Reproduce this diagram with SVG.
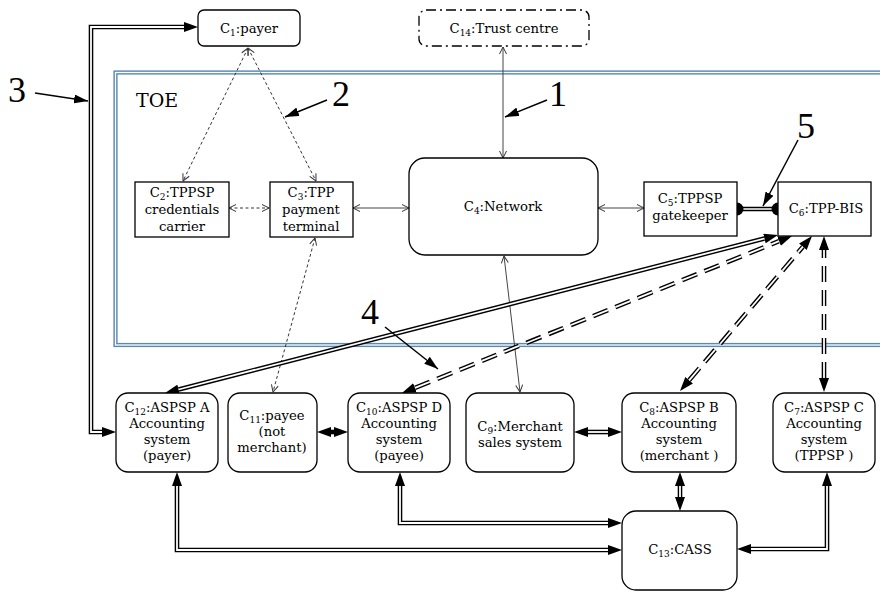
<svg xmlns="http://www.w3.org/2000/svg" width="880" height="592" viewBox="0 0 880 592">
<style>
.box{fill:#fff;stroke:#000;stroke-width:1.3}
.t{font-family:"DejaVu Serif","Liberation Serif",serif;font-size:13.2px;text-anchor:middle;fill:#000}
.sub{font-size:9px}
.lbl{font-family:"Liberation Serif",serif;font-size:36px;fill:#000}
.thin{fill:none;stroke:#444;stroke-width:1;marker-start:url(#oa);marker-end:url(#oa)}
.dot{fill:none;stroke:#333;stroke-width:1;stroke-dasharray:3 2.5;marker-start:url(#oa);marker-end:url(#oa)}
.dbo{fill:none;stroke:#000;stroke-width:4.6;marker-start:url(#ah);marker-end:url(#ah)}
.dbi{fill:none;stroke:#fff;stroke-width:1.8}
.dash{stroke-dasharray:16 8}
.la{fill:none;stroke:#000;stroke-width:1.5;marker-end:url(#la)}
</style>
<defs>
<marker id="ah" viewBox="0 0 14 10" refX="0" refY="5" markerWidth="14" markerHeight="10" markerUnits="userSpaceOnUse" orient="auto-start-reverse"><path d="M0,0 L14,5 L0,10 z" fill="#000"/></marker>
<marker id="oa" viewBox="0 0 8 8" refX="7.5" refY="4" markerWidth="8" markerHeight="8" markerUnits="userSpaceOnUse" orient="auto-start-reverse"><path d="M0.5,0.5 L7.5,4 L0.5,7.5" fill="none" stroke="#333" stroke-width="1"/></marker>
<marker id="la" viewBox="0 0 14 9" refX="14" refY="4.5" markerWidth="14" markerHeight="9" markerUnits="userSpaceOnUse" orient="auto"><path d="M0,0 L14,4.5 L0,9 z" fill="#000"/></marker>
</defs>
<rect width="880" height="592" fill="#fff"/>

<g id="toe">
<rect x="115.5" y="72.5" width="790" height="272.5" fill="none" stroke="#5a8ab4" stroke-width="4.2"/>
<rect x="115.5" y="72.5" width="790" height="272.5" fill="none" stroke="#fff" stroke-width="1.3"/>
<text x="136" y="107" class="t" style="font-size:19px;text-anchor:start">TOE</text>
</g>

<g id="connectors">
<path class="dbo" d="M102,432 L91,432 L91,27 L184,27"/>
<path class="dbi" d="M102,432 L91,432 L91,27 L184,27"/>
<path class="dot" d="M248,48 L183,181"/>
<path class="dot" d="M248,48 L316,181"/>
<path class="dot" d="M229,208 L269,208"/>
<path class="dot" d="M315,238 L273,392"/>
<path class="thin" d="M353,208 L409,208"/>
<path class="thin" d="M503,47 L503,158"/>
<path class="thin" d="M598,208 L644,208"/>
<path class="thin" d="M504,256 L520,392"/>
<path d="M737,209 L778,209" stroke="#000" stroke-width="4.6" fill="none"/>
<path d="M737,209 L778,209" stroke="#fff" stroke-width="1.6" fill="none"/>
<circle cx="737" cy="209" r="6.5" fill="#000"/>
<circle cx="778" cy="209" r="6.5" fill="#000"/>
<path class="dbo" d="M178.6,389.5 L764.4,238.5"/>
<path class="dbi" d="M178.6,389.5 L764.4,238.5"/>
<path class="dbo dash" d="M415,387.8 L779,241.2"/>
<path class="dbi dash" d="M415,387.8 L779,241.2"/>
<path class="dbo dash" d="M689.1,380.3 L802.9,246.7"/>
<path class="dbi dash" d="M689.1,380.3 L802.9,246.7"/>
<path class="dbo dash" d="M824,378 L824,250"/>
<path class="dbi dash" d="M824,378 L824,250"/>
<path class="dbo" d="M331,432 L334,432"/>
<path class="dbo" d="M588,432 L608,432"/>
<path class="dbi" d="M588,432 L608,432"/>
<path class="dbo" d="M680,486 L680,497"/>
<path class="dbi" d="M680,486 L680,497"/>
<path class="dbo" d="M177,486 L177,550 L608,550"/>
<path class="dbi" d="M177,486 L177,550 L608,550"/>
<path class="dbo" d="M400,486 L400,523 L608,523"/>
<path class="dbi" d="M400,486 L400,523 L608,523"/>
<path class="dbo" d="M827,486 L827,549 L751,549"/>
<path class="dbi" d="M827,486 L827,549 L751,549"/>
<path class="la" d="M35,93 L88,101"/>
<path class="la" d="M327,100 L285,117"/>
<path class="la" d="M547,100 L505,117"/>
<path class="la" d="M385,327 L438,369"/>
<path class="la" d="M798,140 L763,206"/>
</g>

<g id="labels">
<text class="lbl" x="8" y="102">3</text>
<text class="lbl" x="332" y="106">2</text>
<text class="lbl" x="549" y="106">1</text>
<text class="lbl" x="361" y="324">4</text>
<text class="lbl" x="797" y="138">5</text>
</g>

<g id="c1"><rect class="box" x="198" y="10" width="102" height="36" rx="6"/>
<text class="t" x="249" y="33">C<tspan class="sub" dy="3">1</tspan><tspan dy="-3">:payer</tspan></text></g>
<g id="c14"><rect x="419" y="10" width="170" height="36" rx="7" fill="#fff" stroke="#000" stroke-width="1.3" stroke-dasharray="10 4 2 4"/>
<text class="t" x="504" y="33">C<tspan class="sub" dy="3">14</tspan><tspan dy="-3">:Trust centre</tspan></text></g>
<g id="c2"><rect class="box" x="135" y="182" width="94" height="55"/>
<text class="t" x="182" y="197">C<tspan class="sub" dy="3">2</tspan><tspan dy="-3">:TPPSP</tspan></text>
<text class="t" x="182" y="214">credentials</text>
<text class="t" x="182" y="231">carrier</text></g>
<g id="c3"><rect class="box" x="270" y="182" width="83" height="55"/>
<text class="t" x="311" y="197">C<tspan class="sub" dy="3">3</tspan><tspan dy="-3">:TPP</tspan></text>
<text class="t" x="311" y="214">payment</text>
<text class="t" x="311" y="231">terminal</text></g>
<g id="c4"><rect class="box" x="409" y="158" width="189" height="97" rx="16"/>
<text class="t" x="503" y="211">C<tspan class="sub" dy="3">4</tspan><tspan dy="-3">:Network</tspan></text></g>
<g id="c5"><rect class="box" x="644" y="182" width="93" height="54"/>
<text class="t" x="690" y="203">C<tspan class="sub" dy="3">5</tspan><tspan dy="-3">:TPPSP</tspan></text>
<text class="t" x="690" y="220">gatekeeper</text></g>
<g id="c6"><rect class="box" x="778" y="182" width="93" height="54"/>
<text class="t" x="826" y="213">C<tspan class="sub" dy="3">6</tspan><tspan dy="-3">:TPP-BIS</tspan></text></g>
<g id="c12"><rect class="box" x="116" y="393" width="102" height="79" rx="12"/>
<text class="t" x="167" y="412">C<tspan class="sub" dy="3">12</tspan><tspan dy="-3">:ASPSP A</tspan></text>
<text class="t" x="167" y="428">Accounting</text>
<text class="t" x="167" y="444">system</text>
<text class="t" x="167" y="460">(payer)</text></g>
<g id="c11"><rect class="box" x="228" y="393" width="89" height="79" rx="12"/>
<text class="t" x="272" y="420">C<tspan class="sub" dy="3">11</tspan><tspan dy="-3">:payee</tspan></text>
<text class="t" x="272" y="436">(not</text>
<text class="t" x="272" y="452">merchant)</text></g>
<g id="c10"><rect class="box" x="348" y="393" width="102" height="79" rx="12"/>
<text class="t" x="399" y="412">C<tspan class="sub" dy="3">10</tspan><tspan dy="-3">:ASPSP D</tspan></text>
<text class="t" x="399" y="428">Accounting</text>
<text class="t" x="399" y="444">system</text>
<text class="t" x="399" y="460">(payee)</text></g>
<g id="c9"><rect class="box" x="466" y="393" width="108" height="79" rx="12"/>
<text class="t" x="520" y="431">C<tspan class="sub" dy="3">9</tspan><tspan dy="-3">:Merchant</tspan></text>
<text class="t" x="520" y="447">sales system</text></g>
<g id="c8"><rect class="box" x="622" y="393" width="114" height="79" rx="12"/>
<text class="t" x="679" y="412">C<tspan class="sub" dy="3">8</tspan><tspan dy="-3">:ASPSP B</tspan></text>
<text class="t" x="679" y="428">Accounting</text>
<text class="t" x="679" y="444">system</text>
<text class="t" x="679" y="460">(merchant )</text></g>
<g id="c7"><rect class="box" x="773" y="393" width="102" height="79" rx="12"/>
<text class="t" x="824" y="412">C<tspan class="sub" dy="3">7</tspan><tspan dy="-3">:ASPSP C</tspan></text>
<text class="t" x="824" y="428">Accounting</text>
<text class="t" x="824" y="444">system</text>
<text class="t" x="824" y="460">(TPPSP )</text></g>
<g id="c13"><rect class="box" x="622" y="511" width="115" height="79" rx="14"/>
<text class="t" x="680" y="554">C<tspan class="sub" dy="3">13</tspan><tspan dy="-3">:CASS</tspan></text></g>
</svg>
